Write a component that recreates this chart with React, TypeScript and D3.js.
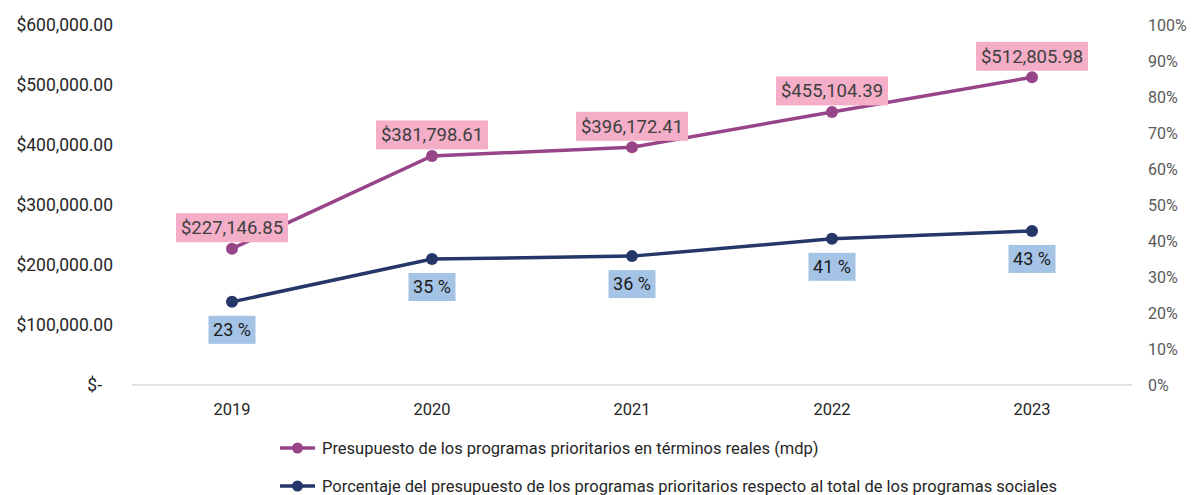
import * as d3 from "d3";

const years = ["2019", "2020", "2021", "2022", "2023"];
const presupuesto = [227146.85, 381798.61, 396172.41, 455104.39, 512805.98];
const porcentaje = [23.1, 35.0, 35.8, 40.6, 42.8];
const pctLabels = ["23 %", "35 %", "36 %", "41 %", "43 %"];
const leftTicks = [0, 100000, 200000, 300000, 400000, 500000, 600000];
const rightTicks = [0, 10, 20, 30, 40, 50, 60, 70, 80, 90, 100];
const legendNames = [
  "Presupuesto de los programas prioritarios en términos reales (mdp)",
  "Porcentaje del presupuesto de los programas prioritarios respecto al total de los programas sociales",
];

const W = 1194;
const H = 495;
const FONT = "Roboto, 'Noto Sans', sans-serif";
const PURPLE = "#974489";
const NAVY = "#253668";
const PINK = "#F4AEC8";
const BLUE = "#A5C3E5";

const money = (v: number) => (v === 0 ? "$-" : "$" + d3.format(",.2f")(v));

export default function App() {
  const x = d3.scaleBand().domain(years).range([132, 1132]);
  const yL = d3.scaleLinear().domain([0, 600000]).range([385, 25]);
  const yR = d3.scaleLinear().domain([0, 100]).range([385, 25]);
  const cx = (d: string) => (x(d) ?? 0) + x.bandwidth() / 2;

  const linePurple = d3
    .line<number>()
    .x((_, i) => cx(years[i]))
    .y((d) => yL(d));
  const lineNavy = d3
    .line<number>()
    .x((_, i) => cx(years[i]))
    .y((d) => yR(d));

  return (
    <svg
      width={W}
      height={H}
      style={{ position: "absolute", left: 0, top: 0, fontFamily: FONT }}
    >
      <rect width={W} height={H} fill="#fff" />
      {/* left axis */}
      {leftTicks.map((t) => (
        <text
          key={t}
          x={t === 0 ? 102 : 113}
          y={yL(t)}
          dy="0.35em"
          textAnchor="end"
          fontSize={17.5}
          fill="#262626"
        >
          {money(t)}
        </text>
      ))}
      {/* right axis */}
      {rightTicks.map((t) => (
        <text
          key={t}
          x={1148}
          y={yR(t)}
          dy="0.35em"
          fontSize={16}
          fill="#595959"
        >
          {t + "%"}
        </text>
      ))}
      <line x1={132} x2={1132} y1={385} y2={385} stroke="#d9d9d9" strokeWidth={1.5} />
      {years.map((d) => (
        <text
          key={d}
          x={cx(d)}
          y={409}
          dy="0.35em"
          textAnchor="middle"
          fontSize={16.5}
          fill="#262626"
        >
          {d}
        </text>
      ))}

      <path d={linePurple(presupuesto) ?? ""} fill="none" stroke={PURPLE} strokeWidth={3.5} />
      <path d={lineNavy(porcentaje) ?? ""} fill="none" stroke={NAVY} strokeWidth={3.5} />
      {presupuesto.map((v, i) => (
        <circle key={"p" + i} cx={cx(years[i])} cy={yL(v)} r={6} fill={PURPLE} />
      ))}
      {porcentaje.map((v, i) => (
        <circle key={"n" + i} cx={cx(years[i])} cy={yR(v)} r={6} fill={NAVY} />
      ))}

      {presupuesto.map((v, i) => {
        const label = "$" + d3.format(",.2f")(v);
        const w = 112;
        const cyL = yL(v) - 21;
        return (
          <g key={"lp" + i}>
            <rect x={cx(years[i]) - w / 2} y={cyL - 14.5} width={w} height={29} fill={PINK} />
            <text
              x={cx(years[i])}
              y={cyL}
              dy="0.35em"
              textAnchor="middle"
              fontSize={18.5}
              fill="#404040"
            >
              {label}
            </text>
          </g>
        );
      })}
      {porcentaje.map((v, i) => {
        const label = pctLabels[i];
        const w = 47;
        const cyL = yR(v) + 28;
        return (
          <g key={"ln" + i}>
            <rect x={cx(years[i]) - w / 2} y={cyL - 14} width={w} height={28} fill={BLUE} />
            <text
              x={cx(years[i])}
              y={cyL}
              dy="0.35em"
              textAnchor="middle"
              fontSize={18}
              fill="#1a1a1a"
            >
              {label}
            </text>
          </g>
        );
      })}

      {/* legend */}
      {legendNames.map((n, i) => {
        const ly = 448 + i * 38;
        const c = i === 0 ? PURPLE : NAVY;
        return (
          <g key={n}>
            <line x1={280} x2={315} y1={ly} y2={ly} stroke={c} strokeWidth={3.5} />
            <circle cx={297.5} cy={ly} r={5.5} fill={c} />
            <text x={322} y={ly} dy="0.35em" fontSize={16.5} fill="#262626">
              {n}
            </text>
          </g>
        );
      })}
    </svg>
  );
}
